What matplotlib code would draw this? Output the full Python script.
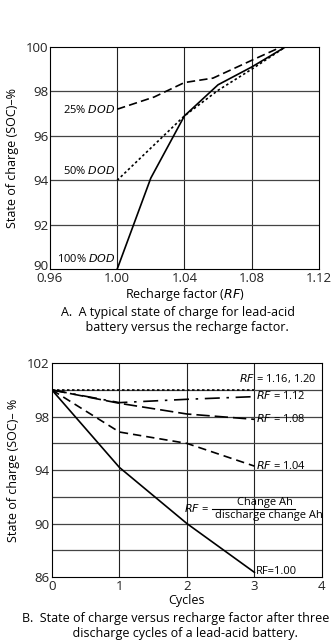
import matplotlib
matplotlib.use("Agg")
import matplotlib.pyplot as plt
from matplotlib.transforms import ScaledTranslation

plt.rcParams['font.family'] = ['Open Sans', 'DejaVu Sans']

# --- chart A: SOC vs recharge factor ---
rf_100 = [1.00, 1.02, 1.04, 1.06, 1.08, 1.10]
soc_100 = [90.0, 94.1, 96.9, 98.3, 99.1, 100.0]

rf_50 = [1.00, 1.04, 1.06, 1.08, 1.10]
soc_50 = [94.0, 96.9, 98.05, 99.0, 100.0]

rf_25 = [1.00, 1.022, 1.04, 1.057, 1.08, 1.096]
soc_25 = [97.2, 97.75, 98.4, 98.6, 99.4, 99.95]

xticks_a = [0.96, 1.00, 1.04, 1.08, 1.12]
yticks_a = [90, 92, 94, 96, 98, 100]

# --- chart B: SOC vs cycles ---
cycles = [0, 1, 2, 3]
soc_rf100 = [100.0, 94.2, 90.0, 86.35]
soc_rf104 = [100.0, 96.85, 96.0, 94.3]
soc_rf108 = [100.0, 99.0, 98.2, 97.8]
soc_rf112 = [100.0, 99.05, 99.3, 99.5]
soc_rf116 = [100.0, 100.0, 100.0, 100.0]

xticks_b = [0, 1, 2, 3, 4]
yticks_b = [86, 90, 94, 98, 102]

fig = plt.figure(figsize=(3.35, 6.44), dpi=100)

# chart A
ax = fig.add_axes([0.149, 0.582, 0.803, 0.345])
ax.plot(rf_100, soc_100, color='black', lw=1.2)
ax.plot(rf_50, soc_50, color='black', lw=1.2, ls=(0, (1.5, 1.5)))
ax.plot(rf_25, soc_25, color='black', lw=1.2, ls=(0, (5, 2.5)))
ax.set_xlim(0.96, 1.12)
ax.set_ylim(90, 100)
ax.set_xticks(xticks_a)
ax.set_xticklabels(['%.2f' % v for v in xticks_a])
ax.set_yticks(yticks_a)
for v in [1.00, 1.04, 1.08]:
    ax.axvline(v, color='#222222', lw=0.8, zorder=0)
for v in [92, 94, 96, 98]:
    ax.axhline(v, color='#444444', lw=0.9, zorder=0)
ax.tick_params(labelsize=9.5, length=0, pad=2, colors='#222222')
ax.tick_params(axis='y', pad=1)
# lift the bottom "90" a little so it clears "0.96"
lbl = ax.get_yticklabels()[0]
lbl.set_transform(lbl.get_transform() + ScaledTranslation(0, 3 / 72, fig.dpi_scale_trans))
ax.set_xlabel('Recharge factor ($\\it{RF}$)', fontsize=9, labelpad=1)
ax.set_ylabel('State of charge (SOC)–%', fontsize=9, labelpad=5)
ax.text(0.999, 97.15, '25% $\\it{DOD}$', ha='right', va='center', fontsize=8)
ax.text(0.999, 94.4, '50% $\\it{DOD}$', ha='right', va='center', fontsize=8)
ax.text(0.999, 90.45, '100% $\\it{DOD}$', ha='right', va='center', fontsize=8)
fig.text(0.53, 0.525, 'A.  A typical state of charge for lead-acid\n      battery versus the recharge factor.',
         ha='center', va='top', fontsize=9, linespacing=1.2)

# chart B
bx = fig.add_axes([0.155, 0.104, 0.806, 0.332])
bx.plot(cycles, soc_rf100, color='black', lw=1.2)
bx.plot(cycles, soc_rf104, color='black', lw=1.2, ls=(0, (5, 3)))
bx.plot(cycles, soc_rf108, color='black', lw=1.2, ls=(0, (8, 3)))
bx.plot(cycles, soc_rf112, color='black', lw=1.2, ls=(0, (9, 4, 1.5, 4)))
bx.plot(cycles, soc_rf116, color='black', lw=1.2, ls=(0, (1.5, 1.5)))
bx.set_xlim(0, 4)
bx.set_ylim(86, 102)
bx.set_xticks(xticks_b)
bx.set_yticks(yticks_b)
for v in [1, 2, 3]:
    bx.axvline(v, color='#222222', lw=0.8, zorder=0)
for v in [88, 90, 92, 94, 96, 98, 100]:
    bx.axhline(v, color='#444444', lw=0.9, zorder=0)
bx.tick_params(labelsize=9.5, length=0, pad=2, colors='#222222')
bx.set_xlabel('Cycles', fontsize=9, labelpad=1)
bx.set_ylabel('State of charge (SOC)– %', fontsize=9, labelpad=5)
bx.text(2.77, 100.85, '$\\it{RF}$ = 1.16, 1.20', ha='left', va='center', fontsize=8)
bx.text(3.02, 99.55, '$\\it{RF}$ = 1.12', ha='left', va='center', fontsize=8)
bx.text(3.02, 97.8, '$\\it{RF}$ = 1.08', ha='left', va='center', fontsize=8)
bx.text(3.02, 94.3, '$\\it{RF}$ = 1.04', ha='left', va='center', fontsize=8)
bx.text(3.02, 86.45, 'RF=1.00', ha='left', va='center', fontsize=8)
bx.text(2.32, 91.1, '$\\it{RF}$ =', ha='right', va='center', fontsize=8)
bx.text(3.15, 91.6, 'Change Ah', ha='center', va='center', fontsize=8)
bx.plot([2.37, 3.6], [91.1, 91.1], color='black', lw=0.8)
bx.text(3.22, 90.6, 'discharge change Ah', ha='center', va='center', fontsize=8)
fig.text(0.525, 0.05, 'B.  State of charge versus recharge factor after three\n      discharge cycles of a lead-acid battery.',
         ha='center', va='top', fontsize=9, linespacing=1.2)

fig.savefig('out.png', dpi=100)
